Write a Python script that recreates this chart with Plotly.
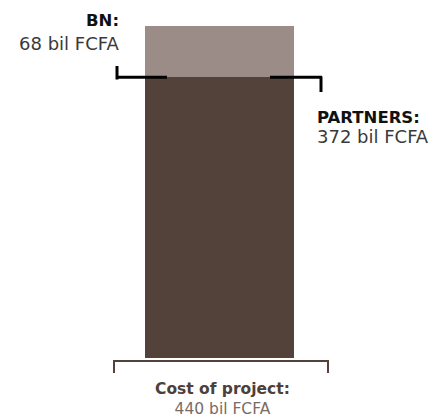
import plotly.graph_objects as go

# Data
categories = ["Cost of project"]
bn_values = [68]
partner_values = [372]
total_label = "440 bil FCFA"

W, H = 434, 417
FONT_FAMILY = "DejaVu Sans"
DARK = "#52423a"
LIGHT = "#9b8c87"


def px(x):
    return x / W


def py(y):
    return 1 - y / H


fig = go.Figure()
fig.add_trace(go.Bar(x=[219.5], y=partner_values, width=149, marker_color=DARK,
                     marker_line_width=0, name="PARTNERS"))
fig.add_trace(go.Bar(x=[219.5], y=bn_values, width=149, marker_color=LIGHT,
                     marker_line_width=0, name="BN"))

split = partner_values[0]

shapes = [
    # BN bracket
    dict(type="line", xref="x", yref="y", x0=117, x1=167, y0=split, y1=split,
         line=dict(color="black", width=3)),
    dict(type="line", xref="x", yref="paper", x0=117, x1=117, y0=py(66), y1=py(79.5),
         line=dict(color="black", width=3)),
    # partners bracket
    dict(type="line", xref="x", yref="y", x0=270, x1=322, y0=split, y1=split,
         line=dict(color="black", width=3)),
    dict(type="line", xref="x", yref="paper", x0=321, x1=321, y0=py(76.5), y1=py(92),
         line=dict(color="black", width=3)),
    # total bracket
    dict(type="line", xref="x", yref="paper", x0=113, x1=329, y0=py(361), y1=py(361),
         line=dict(color=DARK, width=2)),
    dict(type="line", xref="x", yref="paper", x0=114, x1=114, y0=py(360), y1=py(373),
         line=dict(color=DARK, width=2)),
    dict(type="line", xref="x", yref="paper", x0=328, x1=328, y0=py(360), y1=py(373),
         line=dict(color=DARK, width=2)),
]

BOLD = 16.5
REG = 18
annotations = [
    dict(x=px(121), y=py(20), text="<b>BN:</b>", xanchor="right",
         font=dict(size=BOLD, color="#111111")),
    dict(x=px(121), y=py(43), text=f"{bn_values[0]} bil FCFA", xanchor="right",
         font=dict(size=REG, color="#3a3a3a")),
    dict(x=px(315), y=py(117), text="<b>PARTNERS:</b>", xanchor="left",
         font=dict(size=BOLD, color="#111111")),
    dict(x=px(315), y=py(137), text=f"{partner_values[0]} bil FCFA", xanchor="left",
         font=dict(size=REG, color="#3a3a3a")),
    dict(x=px(222), y=py(399),
         text=(f"<b>{categories[0]}:</b><br>"
               f"<span style='color:#7a6b66'>{total_label}</span>"),
         xanchor="center", align="center",
         font=dict(size=15.5, color="#4d3f39")),
]
for a in annotations:
    a.update(xref="paper", yref="paper", yanchor="middle", showarrow=False)

ppu = (358 - 26) / (bn_values[0] + partner_values[0])
fig.update_layout(
    width=W, height=H, margin=dict(l=0, r=0, t=0, b=0),
    barmode="stack", showlegend=False,
    paper_bgcolor="white", plot_bgcolor="white",
    font=dict(family=FONT_FAMILY),
    xaxis=dict(range=[0, W], visible=False, fixedrange=True),
    yaxis=dict(range=[-(H - 358) / ppu, 440 + 26 / ppu], visible=False, fixedrange=True),
    shapes=shapes, annotations=annotations,
)

fig.write_html("out.html", config={"displayModeBar": False},
               post_script="document.body.style.margin='0';")
